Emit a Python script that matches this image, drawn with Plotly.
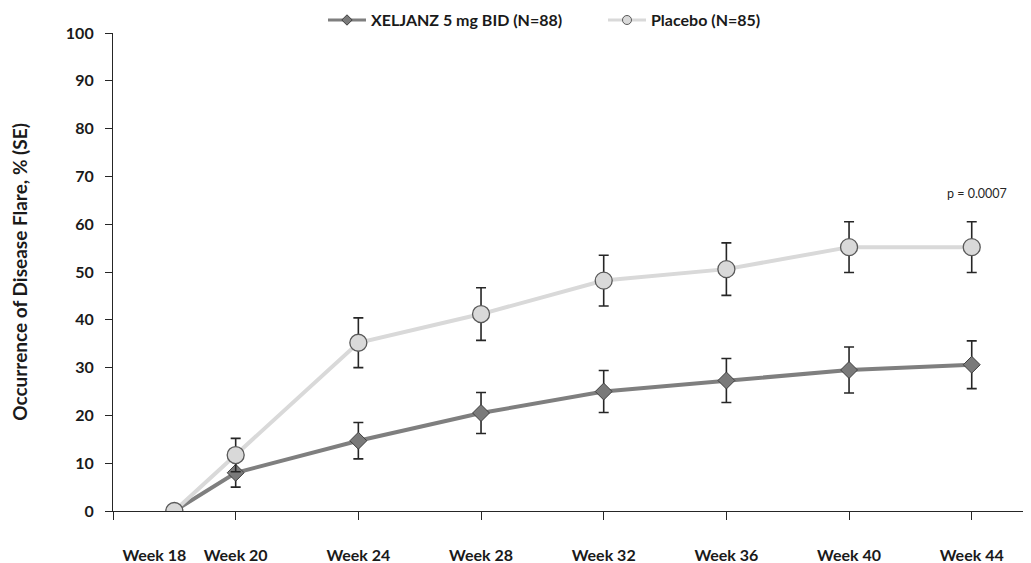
import plotly.graph_objects as go

weeks = [18, 20, 24, 28, 32, 36, 40, 44]
week_labels = ["Week 18", "Week 20", "Week 24", "Week 28", "Week 32", "Week 36", "Week 40", "Week 44"]
axis_ticks = [16, 20, 24, 28, 32, 36, 40, 44]

xel_name = "XELJANZ 5 mg BID (N=88)"
xel_vals = [0, 8.0, 14.7, 20.5, 25.0, 27.3, 29.5, 30.6]
xel_se = [0, 3.0, 3.8, 4.3, 4.4, 4.6, 4.8, 5.0]

pla_name = "Placebo (N=85)"
pla_vals = [0, 11.7, 35.2, 41.2, 48.2, 50.6, 55.2, 55.2]
pla_se = [0, 3.5, 5.2, 5.5, 5.3, 5.5, 5.3, 5.3]

p_text = "p = 0.0007"

FONT = "Lato"
XEL_LINE = "#7f7f7f"
XEL_FILL = "#7a7a7a"
XEL_EDGE = "#3f3f3f"
PLA_LINE = "#d9d9d9"
PLA_FILL = "#d9d9d9"
PLA_EDGE = "#595959"
ERR = "#262626"

# label layout: the first label is nudged left (as in the reference) to avoid overlap
label_pos = [weeks[0] - 0.65] + weeks[1:]

fig = go.Figure()
fig.add_trace(go.Scatter(
    x=weeks, y=xel_vals, name=xel_name, mode="lines+markers", showlegend=False,
    line=dict(color=XEL_LINE, width=4),
    marker=dict(symbol="diamond", size=13, color=XEL_FILL, line=dict(color=XEL_EDGE, width=1)),
    error_y=dict(type="data", array=xel_se, visible=True, color=ERR, thickness=1.6, width=5),
))
fig.add_trace(go.Scatter(
    x=weeks, y=pla_vals, name=pla_name, mode="lines+markers", showlegend=False,
    line=dict(color=PLA_LINE, width=4),
    marker=dict(symbol="circle", size=17, color=PLA_FILL, line=dict(color=PLA_EDGE, width=1.3)),
    error_y=dict(type="data", array=pla_se, visible=True, color=ERR, thickness=1.6, width=5),
))
# legend-only entries with small symbols, as in the reference legend
fig.add_trace(go.Scatter(x=[None], y=[None], name=xel_name, mode="lines+markers",
                         line=dict(color=XEL_LINE, width=3),
                         marker=dict(symbol="diamond", size=8, color=XEL_FILL, line=dict(color=XEL_EDGE, width=1))))
fig.add_trace(go.Scatter(x=[None], y=[None], name=pla_name, mode="lines+markers",
                         line=dict(color=PLA_LINE, width=3),
                         marker=dict(symbol="circle", size=9, color=PLA_FILL, line=dict(color=PLA_EDGE, width=1))))
# invisible trace to hold the tick-mark axis
fig.add_trace(go.Scatter(x=[axis_ticks[0]], y=[0], xaxis="x2", mode="markers",
                         marker=dict(opacity=0), showlegend=False, hoverinfo="skip"))

fig.add_annotation(x=weeks[-1], y=66.5, text=p_text, showarrow=False, xshift=5,
                   font=dict(family=FONT, size=12.5, color="#262626"))

fig.update_layout(
    width=1023, height=555,
    margin=dict(l=105, r=1, t=25, b=52, autoexpand=False),
    plot_bgcolor="white", paper_bgcolor="white",
    font=dict(family=FONT, color="#1a1a1a"),
    showlegend=True,
    legend=dict(orientation="h", x=0.229, xanchor="left", y=1.027, yanchor="middle",
                font=dict(family=FONT, size=16, weight="bold"), itemwidth=38,
                entrywidth=227, entrywidthmode="pixels",
                bgcolor="rgba(0,0,0,0)"),
    xaxis=dict(range=[16, 45.9], tickvals=label_pos, ticktext=week_labels, ticks="",
               tickangle=0,
               showline=True, linecolor="#262626", linewidth=1.2, showgrid=False, zeroline=False,
               automargin=False,
               tickfont=dict(family=FONT, size=16, weight="bold"), ticklabelstandoff=30),
    xaxis2=dict(range=[16, 45.9], overlaying="x", anchor="y", side="bottom",
                tickvals=axis_ticks, ticks="outside", ticklen=8, tickcolor="#262626", tickwidth=1.2,
                showticklabels=False, showgrid=False, zeroline=False, showline=False),
    yaxis=dict(range=[0, 100], tickvals=list(range(0, 101, 10)), ticks="outside", ticklen=7,
               tickcolor="#262626", tickwidth=1.2, showline=True, linecolor="#262626", linewidth=1.2,
               showgrid=False, zeroline=False, ticklabelstandoff=8, automargin=False,
               tickfont=dict(family=FONT, size=16, weight="bold"),
               title=dict(text="Occurrence of Disease Flare, % (SE)", standoff=35,
                          font=dict(family=FONT, size=19, weight="bold"))),
)

fig.write_html("out.html")
